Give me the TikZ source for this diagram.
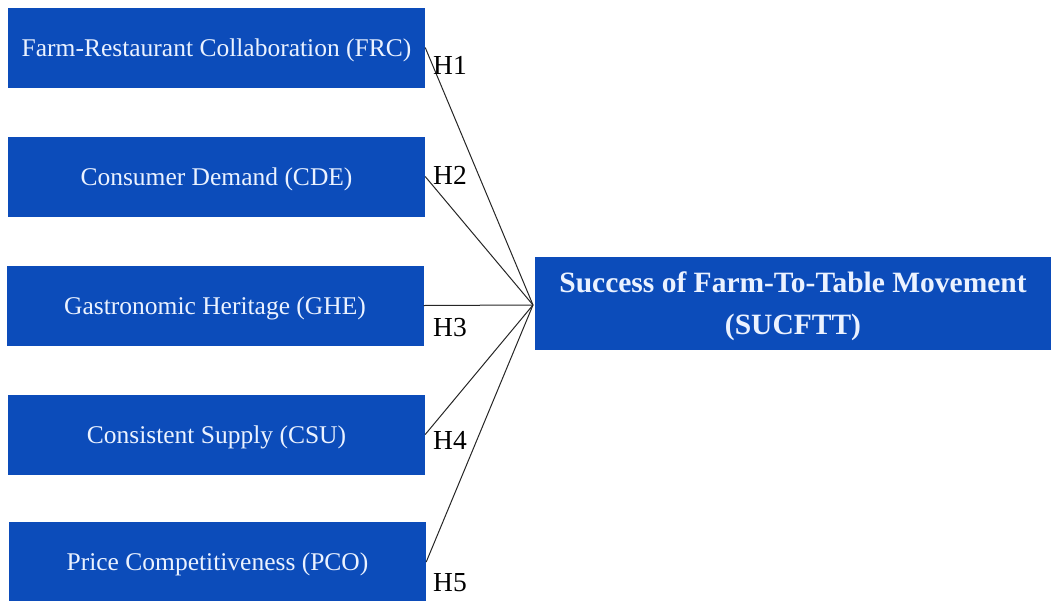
\documentclass[tikz,border=0pt]{standalone}
\usepackage{fontspec}
\setmainfont{Liberation Serif}
\definecolor{boxblue}{RGB}{12,76,186}
\definecolor{boxtext}{RGB}{235,242,255}
\tikzset{
  leftbox/.style={rectangle, fill=boxblue, draw=none, minimum width=417pt, minimum height=80pt, text=boxtext, font=\fontsize{25.5}{28}\selectfont, inner sep=0pt, text depth=0pt},
  rightbox/.style={rectangle, fill=boxblue, draw=none, minimum width=516pt, minimum height=93pt, text=boxtext, font=\bfseries\fontsize{29.5}{42}\selectfont, align=center, inner sep=0pt, text depth=-10pt},
  hlabel/.style={font=\fontsize{27.5}{30}\selectfont, text=black, inner sep=0pt},
  link/.style={draw=black!85, line width=1pt}
}
\begin{document}
\begin{tikzpicture}[x=1pt,y=-1pt]
\useasboundingbox (0,0) rectangle (1051,600);
\node[leftbox] (frc) at (216.5,47.5) {Farm-Restaurant Collaboration (FRC)};
\node[leftbox] (cde) at (216.5,176.5) {Consumer Demand (CDE)};
\node[leftbox] (ghe) at (215,305.5) {Gastronomic Heritage (GHE)};
\node[leftbox] (csu) at (216.5,434.5) {Consistent Supply (CSU)};
\node[leftbox] (pco) at (217.5,562) {Price Competitiveness (PCO)};
\node[rightbox] (suc) at (793,303.5) {Success of Farm-To-Table Movement\\(SUCFTT)};
\coordinate (c) at (533,305);
\draw[link] (frc.east) -- (c);
\draw[link] (cde.east) -- (c);
\draw[link] (ghe.east) -- (c);
\draw[link] (csu.east) -- (c);
\draw[link] (pco.east) -- (c);
\node[hlabel] (h1) at (450,65) {H1};
\node[hlabel] (h2) at (450,175) {H2};
\node[hlabel] (h3) at (450,328) {H3};
\node[hlabel] (h4) at (450,440) {H4};
\node[hlabel] (h5) at (450,583) {H5};
\end{tikzpicture}
\end{document}
